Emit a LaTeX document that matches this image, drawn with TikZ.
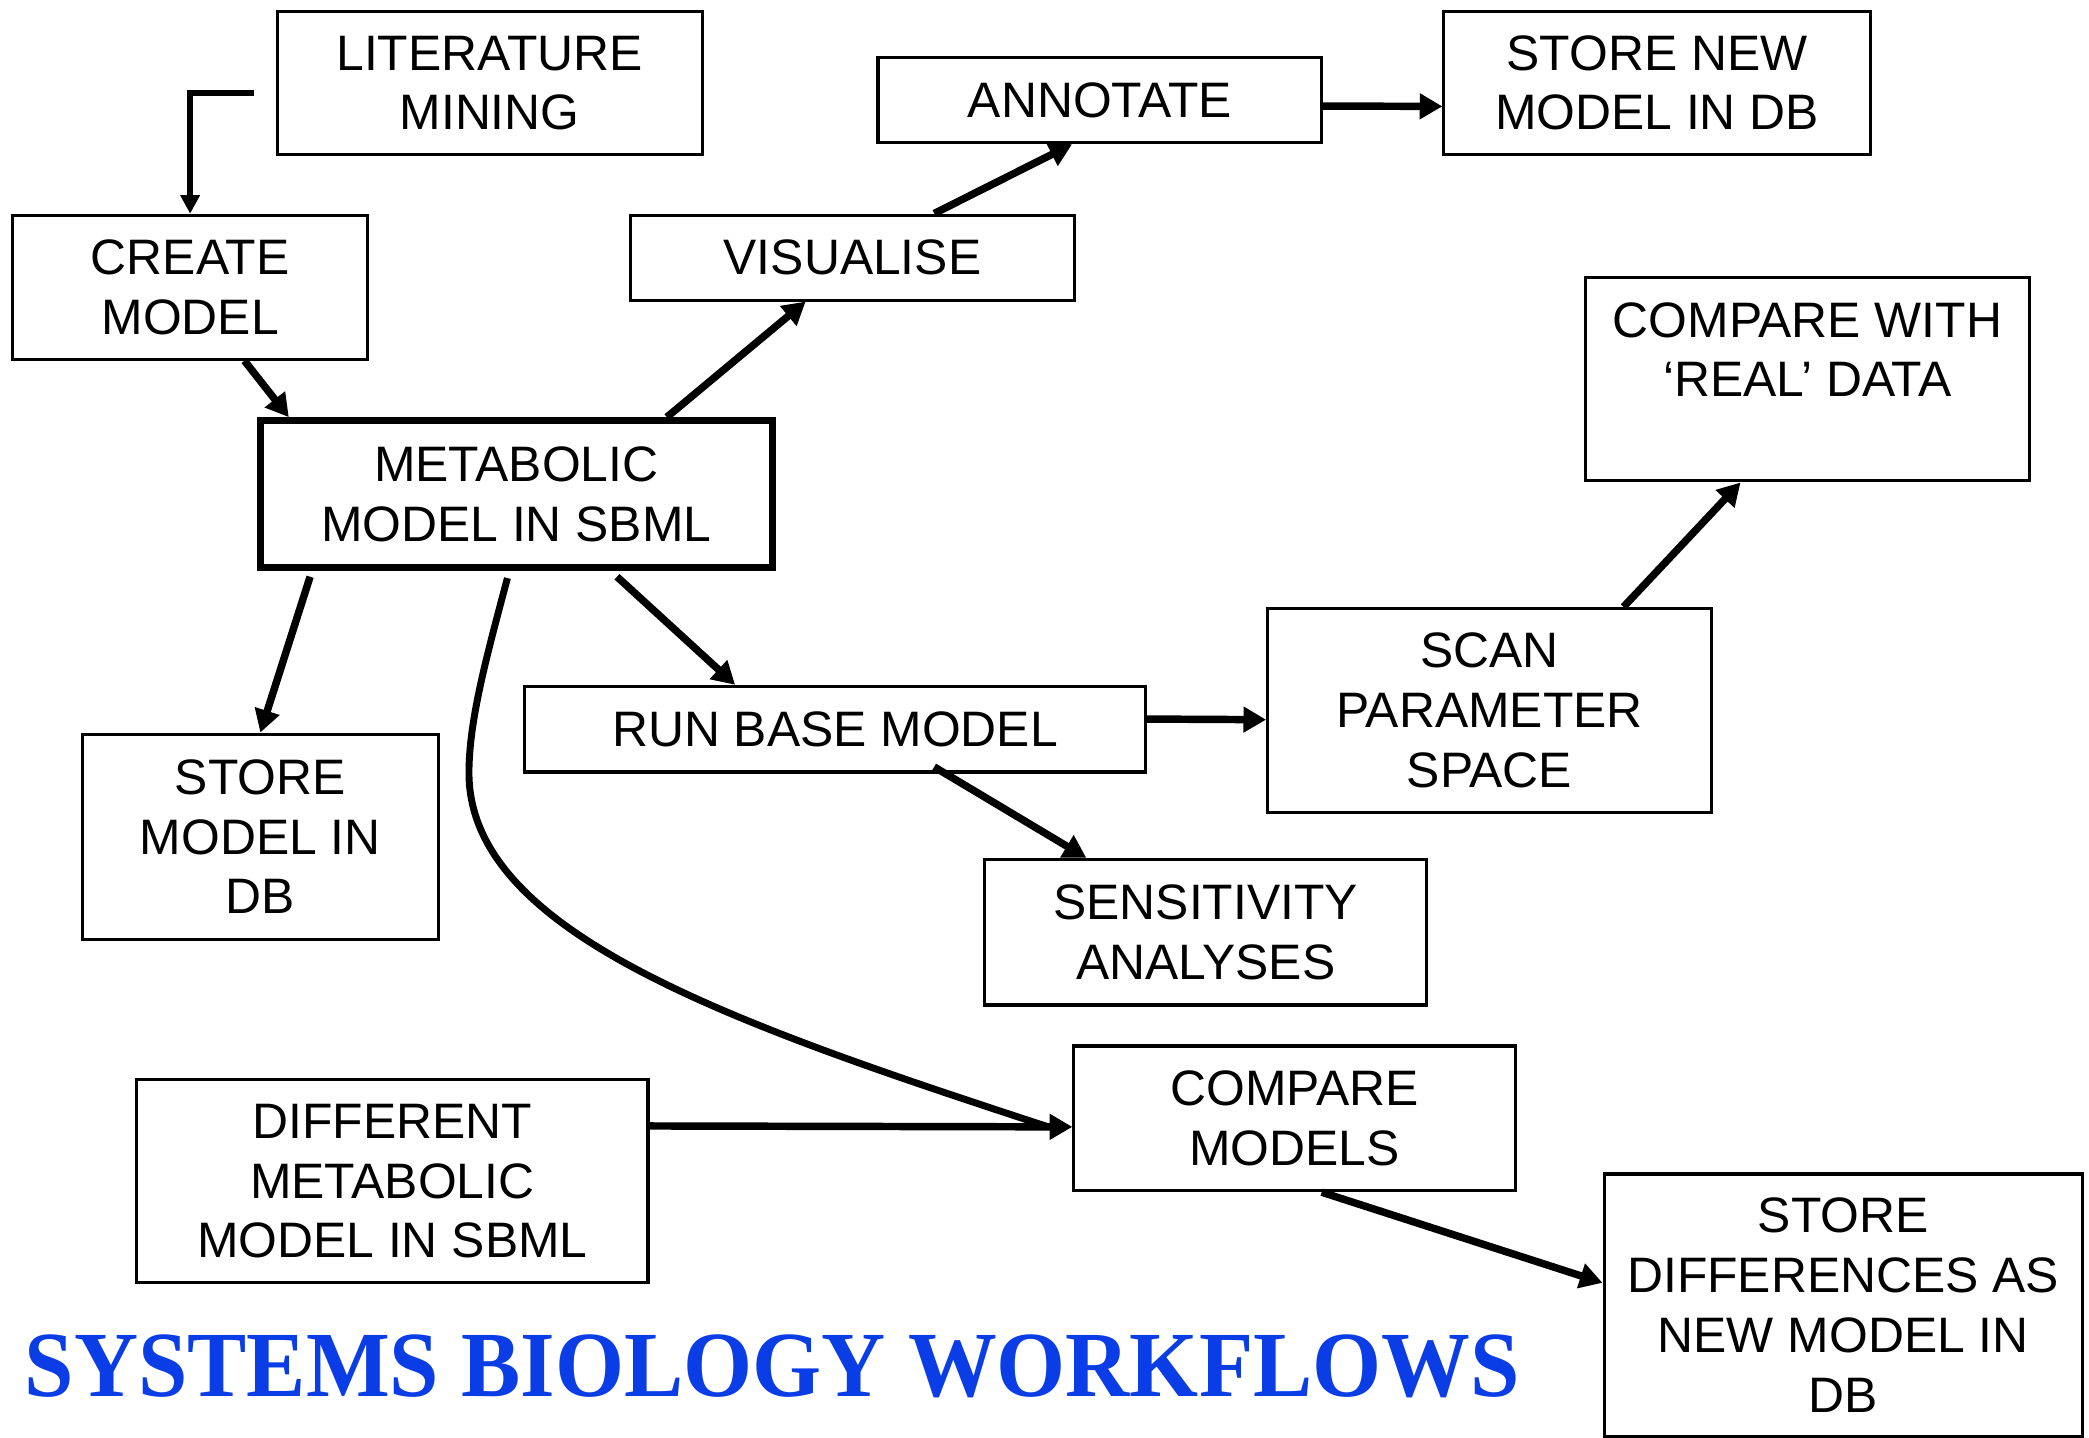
\documentclass[tikz,border=0pt]{standalone}
\usepackage{fontspec}
\usepackage{graphicx}
\usetikzlibrary{arrows.meta,calc}
\newfontfamily\boxfont{Liberation Sans}
\newfontfamily\titlefont{Liberation Serif}
\definecolor{titleblue}{RGB}{10,61,229}

\begin{document}
\begin{tikzpicture}[x=1pt,y=-1pt,
  box/.style={draw,line width=2.3pt,inner sep=0pt,align=center,
    font=\boxfont\fontsize{37.4}{44.8}\selectfont},
  mainbox/.style={box,line width=5.2pt},
  flow/.style={line width=5.6pt,-{Triangle[length=17pt,width=18.5pt]}},
  flowsmall/.style={line width=4.2pt,-{Triangle[length=14pt,width=14pt]}},
]
\useasboundingbox (0,0) rectangle (1568,1079);

% ---- boxes ----
\node[box,minimum width=319pt,minimum height=108pt] (lit) at (367.5,62.3) {LITERATURE\\MINING};
\node[box,minimum width=266pt,minimum height=108pt] (create) at (142.7,215.6) {CREATE\\MODEL};
\node[box,minimum width=333pt,minimum height=63.8pt] (annot) at (825.5,75.2) {ANNOTATE};
\node[box,minimum width=320pt,minimum height=108pt] (storenew) at (1243.8,62.3) {STORE NEW\\MODEL IN DB};
\node[box,minimum width=333pt,minimum height=63.8pt] (vis) at (639.9,193.3) {VISUALISE};
\node[box,minimum width=333pt,minimum height=152.6pt] (cmpreal) at (1356.7,284.7) {COMPARE WITH\\‘REAL’ DATA\\\mbox{}};
\node[mainbox,minimum width=384.6pt,minimum height=110.6pt] (met) at (387.5,371) {METABOLIC\\MODEL IN SBML};
\node[box,minimum width=266.8pt,minimum height=154.2pt] (storemodel) at (195.4,628.1) {STORE\\MODEL IN\\DB};
\node[box,minimum width=466pt,minimum height=64.3pt] (run) at (626.7,547.3) {RUN BASE MODEL};
\node[box,minimum width=333pt,minimum height=153pt] (scan) at (1118,533.2) {SCAN\\PARAMETER\\SPACE};
\node[box,minimum width=332pt,minimum height=109.3pt] (sens) at (905,699.7) {SENSITIVITY\\ANALYSES};
\node[box,minimum width=331.3pt,minimum height=108.6pt] (cmpmod) at (971.7,839.4) {COMPARE\\MODELS};
\node[box,minimum width=383.8pt,minimum height=152.2pt] (diff) at (294.5,886.7) {DIFFERENT\\METABOLIC\\MODEL IN SBML};
\node[box,minimum width=359pt,minimum height=196.8pt] (storediff) at (1383.5,979.6) {STORE\\DIFFERENCES AS\\NEW MODEL IN\\DB};

% ---- title ----
\node[anchor=base west,inner sep=0pt,text=titleblue,
  font=\titlefont\bfseries\fontsize{70}{80}\selectfont] (title) at (18.5,1048.3)
  {\scalebox{0.952}[1]{SYSTEMS BIOLOGY WORKFLOWS}};

% ---- connectors ----
\coordinate (litout) at (191,70);
\draw[flowsmall] (litout) -| (create.north);

\draw[flow] ($(create.south west)!0.652!(create.south east)$) -- ($(met.north west)!0.062!(met.north east)$);
\draw[flow] ($(met.north west)!0.790!(met.north east)$) -- ($(vis.south west)!0.395!(vis.south east)$);
\draw[flow] ($(vis.north west)!0.683!(vis.north east)$) -- ($(annot.south west)!0.438!(annot.south east)$);
\draw[flow] ($(annot.north east)!0.567!(annot.south east)$) -- ($(storenew.north west)!0.659!(storenew.south west)$);

\draw[flow] ($(met.south west)!0.103!(met.south east)+(0,4)$) -- (storemodel.north);
\draw[flow] ($(met.south west)!0.694!(met.south east)+(0,4)$) -- ($(run.north west)!0.340!(run.north east)$);
\draw[flow] ($(run.north east)!0.386!(run.south east)$) -- ($(scan.north west)!0.545!(scan.south west)$);
\draw[flow] ($(run.south west)!0.659!(run.south east)+(0,-5)$) -- ($(sens.north west)!0.232!(sens.north east)$);
\draw[flow] ($(scan.north west)!0.80!(scan.north east)$) -- ($(cmpreal.south west)!0.350!(cmpreal.south east)$);

\coordinate (cmpin) at ($(cmpmod.north west)!0.558!(cmpmod.south west)$);
\draw[flow] ($(diff.north east)!0.231!(diff.south east)$) -- (cmpin);
\draw[line width=5.2pt] ($(met.south west)!0.483!(met.south east)+(0,5)$)
  .. controls (366,490) and (352,540) .. (352,580)
  .. controls (352,700) and (547.5,767.5) .. ($(cmpin)+(-18,0)$);

\draw[flow] ($(cmpmod.south west)!0.561!(cmpmod.south east)$) -- ($(storediff.north west)!0.416!(storediff.south west)$);
\end{tikzpicture}
\end{document}
